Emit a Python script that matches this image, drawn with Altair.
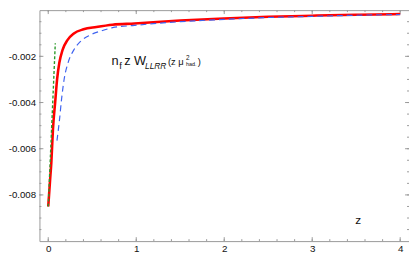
import altair as alt
import pandas as pd

# ---- data ----
red_z = [0.0, 0.02, 0.035, 0.053, 0.06, 0.079, 0.101, 0.126, 0.163, 0.218, 0.291,
         0.401, 0.547, 0.731, 0.98, 1.5, 2.0, 2.5, 3.0, 3.5, 4.0]
red_w = [-0.0085, -0.0074, -0.0066, -0.0052, -0.0048, -0.00397, -0.00298, -0.00228,
         -0.00172, -0.0013, -0.00101, -0.00083, -0.00073, -0.00063, -0.00058,
         -0.00045, -0.00036, -0.00029, -0.00024, -0.0002, -0.00017]

blue_z = [0.099, 0.126, 0.152, 0.181, 0.225, 0.291, 0.365, 0.475, 0.602, 0.731,
          0.98, 1.5, 2.0, 2.5, 3.0, 3.5, 4.0]
blue_w = [-0.00565, -0.00481, -0.00383, -0.00298, -0.00228, -0.00172, -0.00136,
          -0.00108, -0.0009, -0.00076, -0.00066, -0.0005, -0.0004, -0.00032,
          -0.00027, -0.00022, -0.00019]

green_z = [0.0, 0.08]
green_w = [-0.0085, -0.00143]

x_major = [0, 1, 2, 3, 4]
x_minor = [round(0.2 * i, 1) for i in range(21)]
y_major = [-0.002, -0.004, -0.006, -0.008]
y_minor = [round(-0.0005 * i, 4) for i in range(1, 20)]

W, H = 376, 235
FONT = "Liberation Sans"
FRAME = "#999999"

xs = alt.Scale(domain=[-0.1, 4.1], nice=False, zero=False)
ys = alt.Scale(domain=[-0.010, 0.0], nice=False, zero=False)
xaxis = alt.Axis(values=x_major, ticks=False, tickSize=0, domain=False, grid=False,
                 title=None, labelFont=FONT, labelFontSize=10, labelColor="#111",
                 labelPadding=3)
yaxis = alt.Axis(values=y_major, ticks=False, tickSize=0, domain=False, grid=False,
                 title=None, labelFont=FONT, labelFontSize=9.8, labelColor="#111",
                 labelPadding=4,
                 labelExpr="'-' + format(abs(datum.value), '.3f')")


def X(f):
    return alt.X(f, type="quantitative", scale=xs, axis=xaxis)


def Y(f):
    return alt.Y(f, type="quantitative", scale=ys, axis=yaxis)


red = alt.Chart(pd.DataFrame({"z": red_z, "w": red_w})).mark_line(
    color="#ff0000", strokeWidth=2.6, interpolate="monotone"
).encode(x=X("z"), y=Y("w"))

blue = alt.Chart(pd.DataFrame({"z": blue_z, "w": blue_w})).mark_line(
    color="#3f63f0", strokeWidth=1.2, strokeDash=[6, 4], interpolate="monotone"
).encode(x=X("z"), y=Y("w"))

green = alt.Chart(pd.DataFrame({"z": green_z, "w": green_w})).mark_line(
    color="#2a9a2a", strokeWidth=1.4, strokeDash=[3, 2]
).encode(x=X("z"), y=Y("w"))

# ---- inward ticks ----
tick_layers = []
for vals, ln in ((x_minor, 2), (x_major, 4)):
    df = pd.DataFrame({"v": vals})
    tick_layers.append(alt.Chart(df).mark_rule(color=FRAME, strokeWidth=1).encode(
        x=X("v"), y=alt.value(H), y2=alt.value(H - ln)))
    tick_layers.append(alt.Chart(df).mark_rule(color=FRAME, strokeWidth=1).encode(
        x=X("v"), y=alt.value(0), y2=alt.value(ln)))
for vals, ln in ((y_minor, 2), (y_major, 4)):
    df = pd.DataFrame({"v": vals})
    tick_layers.append(alt.Chart(df).mark_rule(color=FRAME, strokeWidth=1).encode(
        y=Y("v"), x=alt.value(0), x2=alt.value(ln)))
    tick_layers.append(alt.Chart(df).mark_rule(color=FRAME, strokeWidth=1).encode(
        y=Y("v"), x=alt.value(W), x2=alt.value(W - ln)))

# ---- annotation text ----
ann = [
    ("n", 0.72, -0.002363, 13, "normal"),
    ("f", 0.808, -0.00253, 9.5, "normal"),
    ("z W", 0.863, -0.002363, 13, "normal"),
    ("LLRR", 1.10, -0.00253, 8.5, "italic"),
    ("(z μ", 1.36, -0.00238, 9.5, "normal"),
    ("2", 1.565, -0.00215, 6.5, "normal"),
    ("had.", 1.565, -0.00243, 5.5, "normal"),
    (")", 1.70, -0.00238, 9.5, "normal"),
    ("z", 3.49, -0.00924, 12, "normal"),
]
text_layers = []
for t, ax, ay, fs, st in ann:
    text_layers.append(alt.Chart(pd.DataFrame({"x": [ax], "y": [ay], "t": [t]})).mark_text(
        align="left", baseline="alphabetic", font=FONT, fontSize=fs, fontStyle=st,
        color="#111"
    ).encode(x=X("x"), y=Y("y"), text="t:N"))

chart = alt.layer(*tick_layers, red, blue, green, *text_layers).properties(
    width=W, height=H,
    autosize=alt.AutoSizeParams(type="none"),
    padding={"left": 32, "top": 0, "right": 0, "bottom": 15},
).configure_view(stroke=FRAME, strokeWidth=1)

chart.save("out.html", embed_options={"renderer": "svg", "actions": False})
